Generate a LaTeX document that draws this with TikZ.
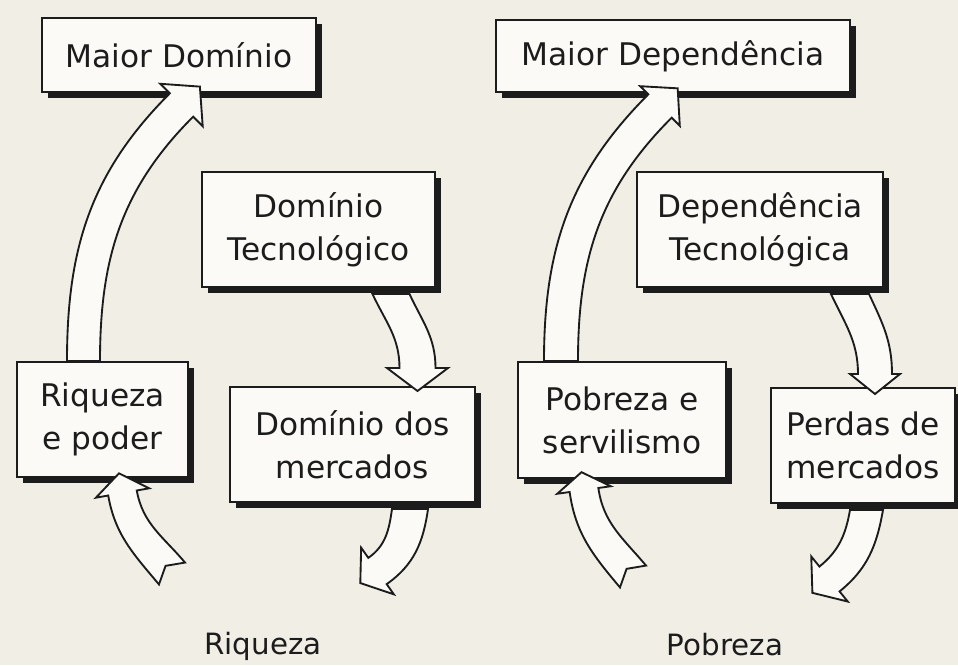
\documentclass[tikz,border=0pt]{standalone}
\usepackage{fontspec}
\setmainfont{DejaVu Sans}
\usetikzlibrary{calc}

\definecolor{pagebg}{RGB}{241,238,230}
\definecolor{boxfill}{RGB}{251,250,246}
\definecolor{ink}{RGB}{28,28,28}

% hollow curved arrow
% #1 tail corner (left), #2 tail corner (right), #3 out angle,
% #4 middle of head back, #5 head angle, #6 half shaft, #7 half head,
% #8 head length, #9 tail cut
\newcommand{\blockarrow}[9]{%
  \pgfmathsetmacro{\arrin}{#5+180}%
  \draw[barrow] (#1) to[out=#3,in=\arrin] ($(#4)+(#5-90:#6)$)
    -- ($(#4)+(#5-90:#7)$) -- ($(#4)+(#5:#8)$) -- ($(#4)+(#5+90:#7)$)
    -- ($(#4)+(#5+90:#6)$) to[out=\arrin,in=#3] (#2) #9 -- cycle;}

\begin{document}
\begin{tikzpicture}[x=0.75pt,y=0.75pt,yscale=-1,
  box/.style={draw=ink, line width=1.5pt, fill=boxfill, text=ink, align=center,
    inner sep=0pt, font=\fontsize{23.4}{32.3}\selectfont,
    preaction={fill=ink, transform canvas={shift={(4.5pt,-4.5pt)}}}},
  lbl/.style={text=ink, inner sep=0pt, font=\fontsize{22}{26}\selectfont},
  barrow/.style={draw=ink, line width=1.4pt, fill=boxfill, line join=miter}]
\fill[pagebg] (0,0) rectangle (958,665);
\useasboundingbox (0,0) rectangle (958,665);

% Boxes, left cycle
\node[box, minimum width=205.5pt, minimum height=55.5pt] (domMaior) at (179,55) {Maior Domínio};
\node[box, minimum width=174.75pt, minimum height=86.25pt] (domTec) at (318.5,229.5) {Domínio\\Tecnológico};
\node[box, minimum width=128.25pt, minimum height=86.25pt] (riq) at (102.5,419.5) {Riqueza\\e poder};
\node[box, minimum width=183.75pt, minimum height=86.25pt] (merc) at (352.5,444.5) {Domínio dos\\mercados};
% Boxes, right cycle
\node[box, minimum width=265.5pt, minimum height=54pt] (depMaior) at (673,56) {Maior Dependência};
\node[box, minimum width=184.5pt, minimum height=86.25pt] (depTec) at (760,229.5) {Dependência\\Tecnológica};
\node[box, minimum width=156pt, minimum height=87pt] (pob) at (622,420) {Pobreza e\\servilismo};
\node[box, minimum width=138pt, minimum height=86.25pt] (perd) at (863,445.5) {Perdas de\\mercados};

% free ends
\coordinate (riqIn) at (172,573.5);
\coordinate (mercOut) at (377.5,571);
\coordinate (pobIn) at (633,576.5);
\coordinate (perdOut) at (829.5,579);

% Block arrows, left
\blockarrow{$(riq.north)+(-35.5,0)$}{$(riq.north)+(-2.5,0)$}{-90}{$(domMaior.south)+(2.5,12)$}{-45}{16.5}{30}{26}{}
\blockarrow{$(domTec.south)+(91,6)$}{$(domTec.south)+(54,6)$}{65}{$(merc.north)+(65,-18)$}{90}{18}{30.5}{23}{}
\blockarrow{$(riqIn)+(140:17)$}{$(riqIn)+(-40:17)$}{230}{$(riq.south)+(20,15)$}{-100}{14.5}{27}{20}{-- ($(riqIn)+(230:10)$)}
\blockarrow{$(merc.south)+(75.5,6)$}{$(merc.south)+(39.5,6)$}{98}{mercOut}{145}{16}{28.5}{21}{}
% Block arrows, right
\blockarrow{$(pob.north)+(-78,0)$}{$(pob.north)+(-44,0)$}{-90}{$(depMaior.south)+(-13,13)$}{-45}{16.5}{28}{25}{}
\blockarrow{$(depTec.south)+(109,6)$}{$(depTec.south)+(71,6)$}{65}{$(perd.north)+(12,-13)$}{90}{17}{25}{20}{}
\blockarrow{$(pobIn)+(140:17)$}{$(pobIn)+(-40:17)$}{230}{$(pob.south)+(-38,11)$}{-98}{14.5}{27}{18}{-- ($(pobIn)+(230:10)$)}
\blockarrow{$(perd.south)+(20,6)$}{$(perd.south)+(-13,6)$}{100}{perdOut}{141}{16}{29}{22}{}

% Text Node
\node[lbl, anchor=base] (lblRiq) at (263,654) {Riqueza};
% Text Node
\node[lbl, anchor=base] (lblPob) at (725,655) {Pobreza};
\end{tikzpicture}
\end{document}
